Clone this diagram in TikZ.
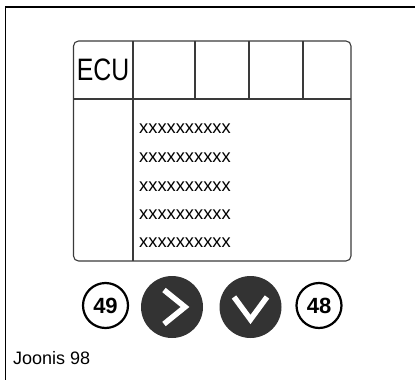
\documentclass[tikz,border=0pt]{standalone}
\usepackage{fontspec}
\setmainfont{Liberation Sans}
\definecolor{darkbtn}{HTML}{333333}
\definecolor{boxline}{HTML}{3A3A3A}
\tikzset{
  frameline/.style={draw=black, line width=1.2pt},
  boxstyle/.style={draw=boxline, line width=1.1pt},
  xrow/.style={anchor=west, inner sep=0pt, font=\fontsize{18.3}{20}\selectfont},
  numcircle/.style={circle, draw=black, line width=2.2pt, minimum size=45pt, inner sep=0pt, font=\fontsize{22}{24}\selectfont\bfseries},
  darkcircle/.style={circle, fill=darkbtn, minimum size=62pt, inner sep=0pt},
  chevron/.style={draw=white, line width=5.5pt, line join=miter, line cap=butt},
  caption/.style={anchor=west, inner sep=0pt, font=\fontsize{18}{20}\selectfont}
}
\begin{document}
\begin{tikzpicture}[x=1pt,y=-1pt]
\useasboundingbox (0,0) rectangle (415,380);
% outer frame
\draw[frameline] (5.7,380) -- (5.7,7) -- (415,7);
% main box
\draw[boxstyle, rounded corners=5pt] (73.5,41) rectangle (351,261);
\draw[boxstyle] (73.5,99) -- (351,99);
\draw[boxstyle] (133,41) -- (133,261);
\draw[boxstyle] (195,41) -- (195,99);
\draw[boxstyle] (249,41) -- (249,99);
\draw[boxstyle] (303,41) -- (303,99);
\node[inner sep=0pt] (ecu) at (103,70) {\scalebox{0.8}[1]{\fontsize{31}{34}\selectfont ECU}};
\node[xrow] (r1) at (139,129) {xxxxxxxxxx};
\node[xrow] (r2) at (139,158) {xxxxxxxxxx};
\node[xrow] (r3) at (139,187) {xxxxxxxxxx};
\node[xrow] (r4) at (139,215) {xxxxxxxxxx};
\node[xrow] (r5) at (139,243) {xxxxxxxxxx};
% buttons
\node[numcircle] (n49) at (105.5,305.5) {49};
\node[darkcircle] (bnext) at (172,307) {};
\node[darkcircle] (bdown) at (250.5,307) {};
\node[numcircle] (n48) at (319,305.5) {48};
\draw[chevron] ([shift={(-8,-17)}]bnext.center) -- ([shift={(13,0)}]bnext.center) -- ([shift={(-8,17)}]bnext.center);
\draw[chevron] ([shift={(-16.5,-10)}]bdown.center) -- ([shift={(0,12.5)}]bdown.center) -- ([shift={(16.5,-10)}]bdown.center);
\node[caption] (cap) at (13,358) {Joonis 98};
\end{tikzpicture}
\end{document}
